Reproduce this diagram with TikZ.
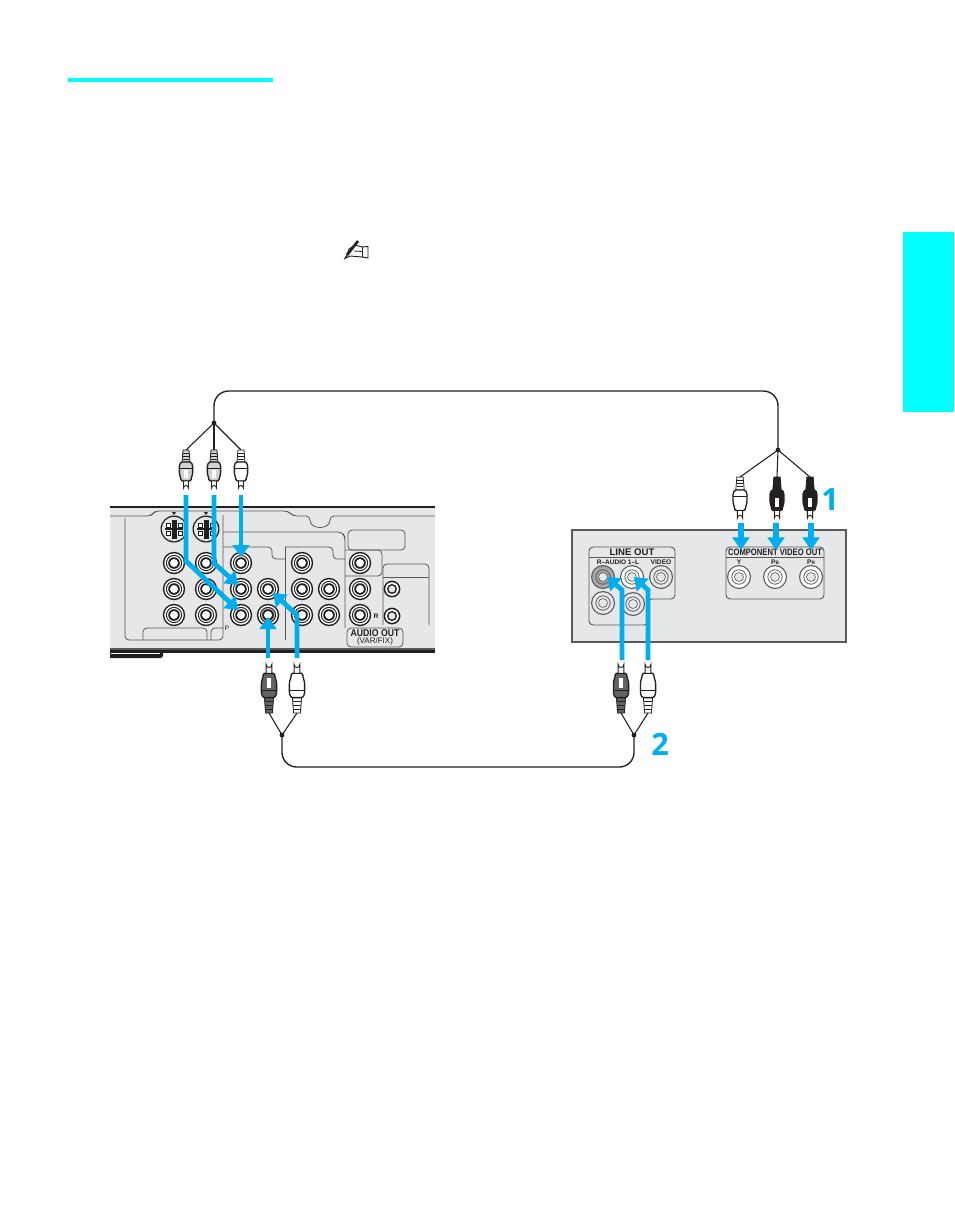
\documentclass[tikz,border=0pt]{standalone}
\usepackage{fontspec}
\setmainfont{Liberation Sans}
\newfontfamily\numfont{Open Sans}
\usetikzlibrary{arrows.meta}
\definecolor{tabcyan}{HTML}{00FFFF}
\definecolor{flow}{HTML}{00AEEF}
\definecolor{panel}{HTML}{E6E7E8}
\definecolor{ink}{HTML}{231F20}
\definecolor{edge}{HTML}{58595B}
\tikzset{
  x=0.75pt,y=-0.75pt,
  flowline/.style={draw=flow,line width=3.6pt,line join=miter,-{Triangle[length=9pt,width=12.5pt]}},
  shortflow/.style={draw=flow,line width=4.2pt,-{Triangle[length=9.5pt,width=12.5pt]}},
  wire/.style={draw=ink,line width=1pt},
  thinwire/.style={draw=ink,line width=0.8pt},
  outline/.style={draw=edge,line width=0.6pt,rounded corners=3pt},
  txt/.style={inner sep=0pt,text=ink},
  pics/jack/.style={code={
    \fill[ink] (0,0) circle (11.2);
    \fill[white] (0,0) circle (9.7);
    \fill[ink] (0,0) circle (8.1);
    \fill[#1] (0,0) circle (7);
    \fill[ink] (0,0) circle (5.8);
    \fill[white] (0,0) circle (4);
  }},
  pics/lightjack/.style={code={
    \fill[edge] (0,0) circle (12);
    \fill[#1] (0,0) circle (10.8);
    \fill[edge] (0,0) circle (7.6);
    \fill[#1] (0,0) circle (6.7);
    \fill[edge] (0,0) circle (4.8);
    \fill[panel] (0,0) circle (4);
  }},
  pics/smalljack/.style={code={
    \fill[ink] (0,0) circle (8.4);
    \fill[white] (0,0) circle (6.8);
    \fill[ink] (0,0) circle (5);
    \fill[panel] (0,0) circle (3.4);
  }},
  pics/svideo/.style={code={
    \fill[ink] (0,0) circle (13.5);
    \fill[panel] (0,0) circle (12.2);
    \fill[ink] (-2.5,-9) rectangle (2.5,10);
    \fill[ink] (-9,-1.2) rectangle (9,1.2);
    \filldraw[fill=white,draw=ink,line width=0.5pt] (-8,-6) rectangle (-4,-2);
    \filldraw[fill=white,draw=ink,line width=0.5pt] (4,-6) rectangle (8,-2);
    \filldraw[fill=white,draw=ink,line width=0.5pt] (-8,2) rectangle (-4,6);
    \filldraw[fill=white,draw=ink,line width=0.5pt] (4,2) rectangle (8,6);
    \fill[ink] (-2,-17) -- (2,-17) -- (0,-14) -- cycle;
  }},
  pics/plug/.style={code={
    \coordinate (-wire) at (0,0);
    \fill[#1,draw=ink,line width=0.6pt] (-3,0) -- (3,0) -- (4,12) -- (-4,12) -- cycle;
    \foreach \yy in {3,6,9} \draw[ink,line width=0.5pt] (-3.2,\yy) -- (3.2,\yy);
    \filldraw[fill=#1,draw=ink,line width=1pt,rounded corners=1pt]
      (-5,12) -- (5,12) -- (6.6,15) -- (6.6,24) -- (5,29) -- (5,31) -- (-5,31) -- (-5,29) -- (-6.6,24) -- (-6.6,15) -- cycle;
    \draw[ink,line width=0.7pt] (-6.4,18) -- (6.4,18);
    \fill[white] (-2,19.5) rectangle (2,27.5);
    \filldraw[fill=white,draw=ink,line width=0.7pt] (-2.5,31) -- (-2.5,38) arc[start angle=180,end angle=360,radius=2.5] -- (2.5,31) -- cycle;
  }}
}
\begin{document}
\begin{tikzpicture}
\useasboundingbox (0,0) rectangle (954,1227);
\fill[white] (0,0) rectangle (954,1227);
% page furniture
\fill[tabcyan] (68,78) rectangle (273,82);
\fill[tabcyan] (903,232) rectangle (954,412);
% note icon
\filldraw[fill=white,draw=ink,line width=0.7pt] (349,249) -- (355,245) -- (362,247) -- (368,246.5) -- (368,258) -- (362,257) -- (350,256) -- (346,258) -- cycle;
\draw[ink,line width=2pt] (347,255) -- (358,241);
\draw[ink,line width=0.6pt] (344,259.5) -- (347,255);
\draw[ink,line width=0.6pt] (354,251) -- (362,251.5);
\draw[ink,line width=0.6pt] (362,247) -- (362,257);

% ---------- left device ----------
\fill[panel] (110,507) rectangle (435,650);
\fill[ink] (110,506) rectangle (435,507.5);
\fill[edge] (110,648) rectangle (435,650);
\fill[ink] (110,650) rectangle (435,652.5);
\fill[ink] (110,651) -- (163,651) -- (163,656) -- (161,658) -- (110,658) -- cycle;
\fill[white] (111,652.5) rectangle (160,654);
\draw[outline] (110,516) -- (151,516) -- (155,511) -- (288,511) -- (293,516) -- (310,516)
   .. controls (310,530) and (330,530) .. (330,516) -- (435,516);
\draw[outline] (125,518) -- (125,640) -- (223,640) -- (223,515);
\draw[outline] (143,640) -- (143,628) -- (207,628) -- (207,640);
\draw[outline] (211,640) -- (211,628) -- (223,628);
\draw[outline] (223,532) -- (342,532) -- (345,537) -- (345,628);
\draw[outline] (223,547) -- (272,547) -- (272,559) -- (285,559);
\draw[outline] (285,547) -- (333,547) -- (333,559) -- (345,559);
\draw[outline] (285,547) -- (285,640);
\draw[outline] (348,530) rectangle (405,550);
\draw[outline] (345,550) -- (382,550) -- (382,576) -- (345,576);
\draw[outline] (383,625) -- (383,564) -- (429,564) -- (429,625);
\draw[edge,line width=0.6pt] (383,577) -- (429,577);
\draw[outline,fill=panel] (347,628) rectangle (403,647);
\node[txt,font=\bfseries\fontsize{7.4pt}{8pt}\selectfont] (audiolabel) at (375,633.5) {\scalebox{0.88}[1]{AUDIO OUT}};
\node[txt,font=\fontsize{6pt}{7pt}\selectfont] (varfix) at (375,641) {(VAR/FIX)};
\node[txt,font=\bfseries\fontsize{5pt}{6pt}\selectfont] (rlabel) at (376,616) {R};
\node[txt,font=\fontsize{5pt}{6pt}\selectfont] (plabel) at (227,628) {P};
\pic at (174,529) {svideo};
\pic at (206,529) {svideo};
\foreach \px in {174,206,302}{\pic at (\px,563) {jack=white};}
\pic at (241,563) {jack=white};
\pic at (360,563) {jack=white};
\foreach \px in {174,206,241,268,302,329,360}{\pic at (\px,589) {jack=white};}
\foreach \px in {174,206,241,302,329,360}{\pic at (\px,615) {jack=white};}
\pic at (268,615) {jack=gray!60};
\pic at (392,589) {smalljack};
\pic at (392,616) {smalljack};
\coordinate (vidin1) at (238,610);
\coordinate (vidin2) at (238,585);
\coordinate (vidin3) at (241,557);
\coordinate (audin1) at (268,617);
\coordinate (audin2) at (273,593);

% ---------- right device ----------
\filldraw[fill=panel,draw=edge,line width=1pt] (572,530) rectangle (846,642);
\draw[outline,line width=0.7pt] (589,547) -- (675,547) -- (675,599) -- (648,599) -- (648,625) -- (589,625) -- cycle;
\draw[edge,line width=0.7pt] (589,557) -- (675,557);
\draw[outline,line width=0.7pt] (726,547) rectangle (824,599);
\draw[edge,line width=0.7pt] (726,557) -- (824,557);
\node[txt,font=\bfseries\fontsize{7.2pt}{8pt}\selectfont] (lineout) at (632,552) {LINE OUT};
\node[txt,font=\bfseries\fontsize{4.9pt}{6pt}\selectfont] (raudio) at (618,562.5) {R–AUDIO 1–L};
\node[txt,font=\bfseries\fontsize{5pt}{6pt}\selectfont] (video) at (661,562.5) {VIDEO};
\node[txt,font=\bfseries\fontsize{7pt}{8pt}\selectfont] (compout) at (775,552) {\scalebox{0.82}[1]{COMPONENT VIDEO OUT}};
\node[txt,font=\bfseries\fontsize{5pt}{6pt}\selectfont] (ylabel) at (739,562.5) {Y};
\node[txt,font=\bfseries\fontsize{5pt}{6pt}\selectfont] (pblabel) at (775,562.5) {P{\fontsize{3.6pt}{4pt}\selectfont B}};
\node[txt,font=\bfseries\fontsize{5pt}{6pt}\selectfont] (prlabel) at (811,562.5) {P{\fontsize{3.6pt}{4pt}\selectfont R}};
\pic at (603,577) {lightjack=gray!70};
\pic at (632,577) {lightjack=white};
\pic at (661,577) {lightjack=panel};
\pic at (603,603) {lightjack=panel};
\pic at (633,604) {lightjack=panel};
\pic at (739,577) {lightjack=white};
\pic at (775,577) {lightjack=white};
\pic at (811,577) {lightjack=white};
\coordinate (lineinL) at (607,577);
\coordinate (lineinR) at (634,577);
\coordinate (compin1) at (741,550);
\coordinate (compin2) at (776,550);
\coordinate (compin3) at (811,550);

% ---------- plugs ----------
\pic (vp1) at (186,450) {plug=gray!35};
\pic (vp2) at (214,450) {plug=gray!35};
\pic (vp3) at (241,450) {plug=white};
\pic (cp1) [xscale=1.05,yscale=1.08] at (740,477) {plug=white};
\pic (cp2) [xscale=1.05,yscale=1.08] at (777,477) {plug=ink};
\pic (cp3) [xscale=1.05,yscale=1.08] at (810,477) {plug=ink};
\pic (ap1) [xscale=1.15,yscale=-1.28] at (269,713) {plug=gray!70!ink};
\pic (ap2) [xscale=1.15,yscale=-1.28] at (297,713) {plug=white};
\pic (ap3) [xscale=1.15,yscale=-1.28] at (621,713) {plug=gray!70!ink};
\pic (ap4) [xscale=1.15,yscale=-1.28] at (648,713) {plug=white};

% ---------- cables ----------
\coordinate (jv) at (214,423);
\coordinate (jc) at (778,450);
\coordinate (ja) at (282,735);
\coordinate (jb) at (634,735);
\draw[wire,rounded corners=11pt] (jv) -- (214,391) -- (778,391) -- (jc);
\draw[wire,rounded corners=11pt] (ja) -- (282,767) -- (634,767) -- (jb);
\foreach \jn/\pn in {jv/vp1,jv/vp2,jv/vp3,jc/cp1,jc/cp2,jc/cp3,ja/ap1,ja/ap2,jb/ap3,jb/ap4}
  \draw[thinwire] (\jn) -- (\pn-wire);
\foreach \jn in {jv,jc,ja,jb} \fill[ink] (\jn) circle (2.4);

% ---------- arrows ----------
\coordinate (s1) at (186,495);
\coordinate (s2) at (214,495);
\coordinate (s3) at (241,495);
\coordinate (s4) at (268,658);
\coordinate (s5) at (297,658);
\coordinate (s6) at (622,660);
\coordinate (s7) at (648,660);
\coordinate (s8) at (741,523);
\coordinate (s9) at (776,523);
\coordinate (s10) at (811,523);
\draw[flowline] (s1) -- (186,561) -- (vidin1);
\draw[flowline] (s2) -- (214,563) -- (vidin2);
\draw[flowline] (s3) -- (vidin3);
\draw[flowline] (s4) -- (audin1);
\draw[flowline] (s5) -- (297,615) -- (audin2);
\draw[flowline] (s6) -- (622,590) -- (lineinL);
\draw[flowline] (s7) -- (648,590) -- (lineinR);
\draw[shortflow] (s8) -- (compin1);
\draw[shortflow] (s9) -- (compin2);
\draw[shortflow] (s10) -- (compin3);

% ---------- step numbers ----------
\node[inner sep=0pt,text=flow,font=\numfont\bfseries\fontsize{23pt}{24pt}\selectfont] (n1) at (830,500) {1};
\node[inner sep=0pt,text=flow,font=\numfont\bfseries\fontsize{23pt}{24pt}\selectfont] (n2) at (660,744) {2};
\end{tikzpicture}
\end{document}
